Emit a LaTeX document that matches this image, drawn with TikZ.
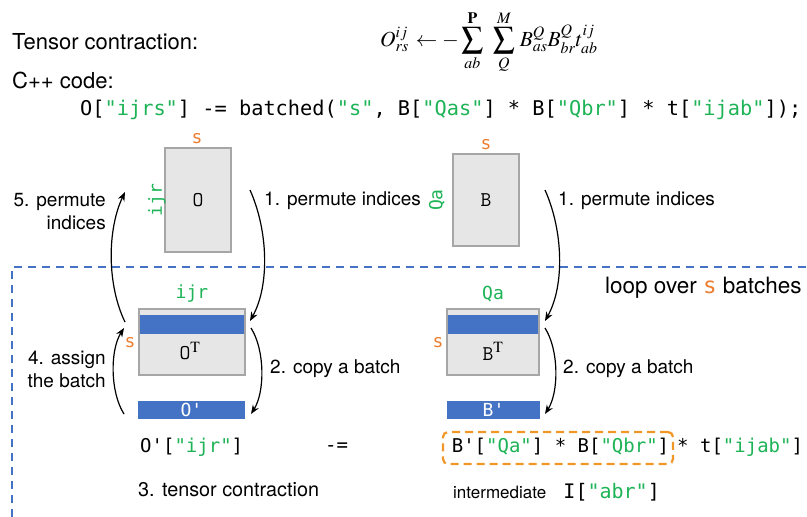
\documentclass[tikz,border=0pt]{standalone}
\usepackage{mathptmx}
\usepackage{fontspec}
\setmainfont{TeX Gyre Heros}
\newfontfamily\dmono{DejaVu Sans Mono}
\usetikzlibrary{arrows.meta}
\definecolor{cgreen}{HTML}{1DB356}
\definecolor{corange}{HTML}{ED7D31}
\definecolor{cblue}{HTML}{4472C4}
\definecolor{cgrayfill}{HTML}{E6E6E6}
\definecolor{cgrayline}{HTML}{A6A6A6}
\newcommand{\grn}[1]{\textcolor{cgreen}{"#1"}}
\tikzset{
  lbl/.style={inner sep=0, font=\fontsize{19}{23}\selectfont},
  codetxt/.style={inner sep=0, font=\fontsize{20.3}{24}\selectfont\dmono},
  mono/.style={inner sep=0, font=\fontsize{19}{23}\selectfont\dmono},
  glbl/.style={inner sep=0, font=\fontsize{18}{22}\selectfont\dmono, text=cgreen},
  olbl/.style={inner sep=0, font=\fontsize{18}{22}\selectfont\dmono, text=corange},
  tbox/.style={draw=cgrayline, fill=cgrayfill, line width=2pt, outer sep=0, inner sep=0, font=\fontsize{21}{24}\selectfont\ttfamily},
  bar/.style={fill=cblue, text=white, inner sep=0, outer sep=0, font=\fontsize{18}{22}\selectfont\dmono},
  arr/.style={-{Stealth[length=9pt,width=7pt]}, line width=1.2pt, black},
  loopline/.style={cblue, line width=2.5pt, dash pattern=on 8pt off 6pt},
  obox/.style={draw=corange!80!yellow, line width=2.2pt, dash pattern=on 8pt off 5pt, rounded corners=5pt, inner sep=0, outer sep=0}
}
\begin{document}
\begin{tikzpicture}[x=1pt,y=-1pt]
\useasboundingbox (0,0) rectangle (807,517);
% header
\node[inner sep=0, anchor=west] (tc) at (12,42) {\fontsize{22}{26}\selectfont Tensor contraction:};
\node[inner sep=0, anchor=west] (eq) at (380,42) {\fontsize{21.5}{24}\selectfont $\displaystyle O^{ij}_{rs}\, \leftarrow - \sum_{ab}^{\mathbf{P}}\;\, \sum_{Q}^{M}\, B^{Q}_{as} B^{Q}_{br} t^{ij}_{ab}$};
\node[inner sep=0, anchor=west] (cpp) at (12,80) {\fontsize{22}{26}\selectfont C++ code:};
\node[codetxt, anchor=west] (code) at (80,110) {O[\grn{ijrs}] -= batched(\grn{s}, B[\grn{Qas}] * B[\grn{Qbr}] * t[\grn{ijab}]);};
% loop border
\coordinate (lp0) at (12,517);
\coordinate (lp1) at (12,267);
\coordinate (lp2) at (807,267);
\draw[loopline] (lp0) -- (lp1) -- (lp2);
\node[inner sep=0, anchor=west, font=\fontsize{22.5}{26}\selectfont] (loop) at (605,288) {loop over \textcolor{corange}{\dmono s} batches};
% top boxes
\node[tbox, minimum width=66pt, minimum height=104pt] (O) at (198,200) {O};
\node[olbl] (Os) at (197,139) {s};
\node[glbl, rotate=90] (Oijr) at (157,200) {ijr};
\node[tbox, minimum width=66pt, minimum height=92pt] (B) at (486,200) {B};
\node[olbl] (Bs) at (486,145) {s};
\node[glbl, rotate=90] (BQa) at (437,200) {Qa};
% transposed boxes
\node[tbox, minimum width=106pt, minimum height=66pt] (OT) at (192,342) {};
\fill[cblue] (140,315) rectangle (244,334);
\draw[cgrayline, line width=2pt] (OT.north west) rectangle (OT.south east);
\node[inner sep=0, font=\fontsize{21}{24}\selectfont\ttfamily] (OTt) at (190,351) {O$^{\mathrm{T}}$};
\node[glbl] (OTl) at (192,294) {ijr};
\node[olbl] (OTs) at (130,343) {s};
\node[tbox, minimum width=92pt, minimum height=66pt] (BT) at (493,342) {};
\fill[cblue] (448,315) rectangle (538,334);
\draw[cgrayline, line width=2pt] (BT.north west) rectangle (BT.south east);
\node[inner sep=0, font=\fontsize{21}{24}\selectfont\ttfamily] (BTt) at (493,351) {B$^{\mathrm{T}}$};
\node[glbl] (BTl) at (493,294) {Qa};
\node[olbl] (BTs) at (438,343) {s};
% batch bars
\node[bar, minimum width=107pt, minimum height=18pt] (Op) at (191.5,410) {O'};
\node[bar, minimum width=93pt, minimum height=18pt] (Bp) at (493.5,410) {B'};
% labels
\node[lbl, anchor=east, align=right] (l5) at (106,212) {5. permute\\indices};
\node[lbl, anchor=west] (l1a) at (264,201) {1. permute indices};
\node[lbl, anchor=west] (l1b) at (558,201) {1. permute indices};
\node[lbl, anchor=east, align=right] (l4) at (106,369) {4. assign\\the batch};
\node[lbl, anchor=west] (l2a) at (270,369) {2. copy a batch};
\node[lbl, anchor=west] (l2b) at (563,369) {2. copy a batch};
% bottom expression
\node[mono, anchor=west] (lhs) at (140,447) {O'[\grn{ijr}]};
\node[mono, anchor=west] (mq) at (325,447) {-=};
\node[obox, minimum width=230pt, minimum height=32pt] (I) at (558,448) {};
\node[mono] (Itxt) at (560.5,447) {B'[\grn{Qa}] * B[\grn{Qbr}]};
\node[mono, anchor=west] (tt) at (677,447) {* t[\grn{ijab}]};
\node[inner sep=0, anchor=west, font=\fontsize{19.8}{23}\selectfont] (l3) at (138,490) {3. tensor contraction};
\node[inner sep=0, anchor=west, font=\fontsize{17}{21}\selectfont] (lint) at (453,492) {intermediate};
\node[inner sep=0, anchor=east, font=\fontsize{20}{23}\selectfont\dmono] (lintc) at (660,492) {I[\grn{abr}]};
% arrows
\coordinate (a1s) at (250,190); \coordinate (a1e) at (250,321);
\coordinate (a5s) at (125,322); \coordinate (a5e) at (125,192);
\coordinate (a2s) at (251,328); \coordinate (a2e) at (251,414);
\coordinate (a4s) at (124,414); \coordinate (a4e) at (124,328);
\coordinate (b1s) at (545,190); \coordinate (b1e) at (545,321);
\coordinate (b2s) at (545,328); \coordinate (b2e) at (545,414);
\draw[arr] (a1s) .. controls (268,230) and (270,285) .. (a1e);
\draw[arr] (a5s) .. controls (107,285) and (107,230) .. (a5e);
\draw[arr] (a2s) .. controls (265,350) and (265,392) .. (a2e);
\draw[arr] (a4s) .. controls (110,392) and (110,350) .. (a4e);
\draw[arr] (b1s) .. controls (563,230) and (565,285) .. (b1e);
\draw[arr] (b2s) .. controls (559,350) and (559,392) .. (b2e);
\end{tikzpicture}
\end{document}
